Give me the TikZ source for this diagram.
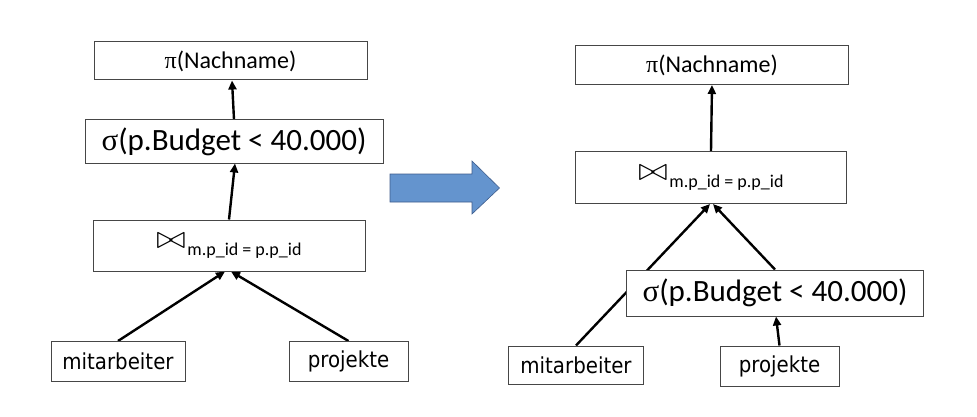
\documentclass[tikz,border=0pt]{standalone}
\usepackage{fontspec}
\setmainfont{Carlito}
\newfontfamily\leaffont[FakeStretch=0.9]{DejaVu Sans}
\newfontfamily\greekfont{Liberation Serif}
\usetikzlibrary{arrows.meta,backgrounds}
\definecolor{boxline}{RGB}{70,70,70}
\definecolor{arrowblue}{RGB}{100,148,206}
\definecolor{arrowline}{RGB}{62,92,140}
\newcommand{\opfont}{\fontsize{24}{28}\selectfont}
\newcommand{\sigfont}{\fontsize{31}{36}\selectfont}
\newcommand{\subfont}{\fontsize{18}{22}\selectfont}
\newcommand{\joinlabel}{\resizebox{29pt}{15pt}{$\bowtie$}\hspace{2pt}\raisebox{-7pt}{\subfont m.p\_id = p.p\_id}}

\begin{document}
\begin{tikzpicture}[x=1pt, y=-1pt,
	opbox/.style={draw=boxline, line width=1pt, fill=white, inner sep=0pt, font=\opfont},
	leaf/.style={opbox, font=\leaffont\fontsize{22}{24}\selectfont, minimum height=40pt},
	flow/.style={-{Triangle[length=9pt,width=8pt]}, line width=2.4pt}]
	\useasboundingbox (0,0) rectangle (977,417);

	\node[opbox, minimum width=273pt, minimum height=38pt](P1) at (230.5,61){{\greekfont π}(Nachname)};
	\node[opbox, font=\sigfont, minimum width=298pt, minimum height=43pt, below of=P1, node distance=80.5pt, xshift=3.5pt](S1){{\greekfont σ}(p.Budget < 40.000)};
	\node[opbox, minimum width=272pt, minimum height=51pt, below of=S1, node distance=104pt, xshift=-5pt](J1){\joinlabel};
	\node[leaf, minimum width=134pt](M1) at (118,361.5){mitarbeiter};
	\node[leaf, minimum width=119pt, right of=M1, node distance=230.5pt](PR1){projekte};

	\draw[draw=arrowline, fill=arrowblue, line width=0.6pt] (390,174) -- (472,174) -- (472,161) -- (499.5,188) -- (472,214) -- (472,202) -- (390,202) -- cycle;

	\node[opbox, minimum width=273pt, minimum height=39pt](P2) at (712,65){{\greekfont π}(Nachname)};
	\node[opbox, minimum width=271pt, minimum height=52pt, below of=P2, node distance=112.5pt, xshift=-1pt](J2){\joinlabel};
	\node[opbox, font=\sigfont, minimum width=297pt, minimum height=46pt](S2) at (775,293){{\greekfont σ}(p.Budget < 40.000)};
	\node[leaf, minimum width=135pt, minimum height=38pt](M2) at (576,365){mitarbeiter};
	\node[leaf, minimum width=119pt, below of=S2, node distance=73pt, xshift=4.5pt](PR2){projekte};

	\begin{scope}[on background layer]
	\draw[flow] (M1.north) -- ([xshift=-4pt]J1.south);
	\draw[flow] (PR1.north) -- ([xshift=2pt]J1.south);
	\draw[flow] (J1.north) -- ([xshift=1pt]S1.south);
	\draw[flow] (S1.north) -- ([xshift=1.5pt]P1.south);

	\draw[flow] (M2.north) -- ([xshift=-1pt]J2.south);
	\draw[flow] (S2.north) -- ([xshift=2pt]J2.south);
	\draw[flow] (J2.north) -- (P2.south);
	\draw[flow] (PR2.north) -- ([xshift=1pt]S2.south);
	\end{scope}
\end{tikzpicture}
\end{document}
